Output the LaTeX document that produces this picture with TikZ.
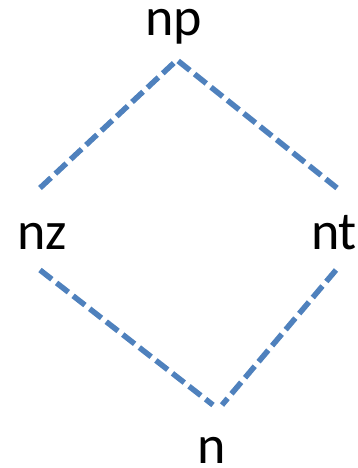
\documentclass[tikz,border=0pt]{standalone}
\usepackage{fontspec}
\setmainfont{Carlito}
\definecolor{edgeblue}{HTML}{4F81BD}
\tikzset{
  lbl/.style={font=\fontsize{54}{60}\selectfont, inner sep=0pt, anchor=base,
    text height=0.5em, text depth=0pt},
  edge/.style={draw=edgeblue, line width=5.5pt, dash pattern=on 15pt off 6pt},
}
\begin{document}
\begin{tikzpicture}[x=1pt, y=-1pt]
  \useasboundingbox (0,0) rectangle (358,468);
  % labels
  \node[lbl] (np) at (174,36) {np};
  \node[lbl] (nz) at (42,249) {nz};
  \node[lbl] (nt) at (334,249) {nt};
  \node[lbl] (n)  at (212,463) {n};
  % line ends
  \coordinate (np-s) at (177,60);
  \coordinate (nz-n) at (40,188);
  \coordinate (nt-n) at (337,188);
  \coordinate (nz-s) at (40,270);
  \coordinate (nt-s) at (336,270);
  \coordinate (n-nw) at (213,405);
  \coordinate (n-ne) at (222,405);
  \draw[edge] (nz-n) -- (np-s) -- (nt-n);
  \draw[edge] (nz-s) -- (n-nw);
  \draw[edge] (nt-s) -- (n-ne);
\end{tikzpicture}
\end{document}
